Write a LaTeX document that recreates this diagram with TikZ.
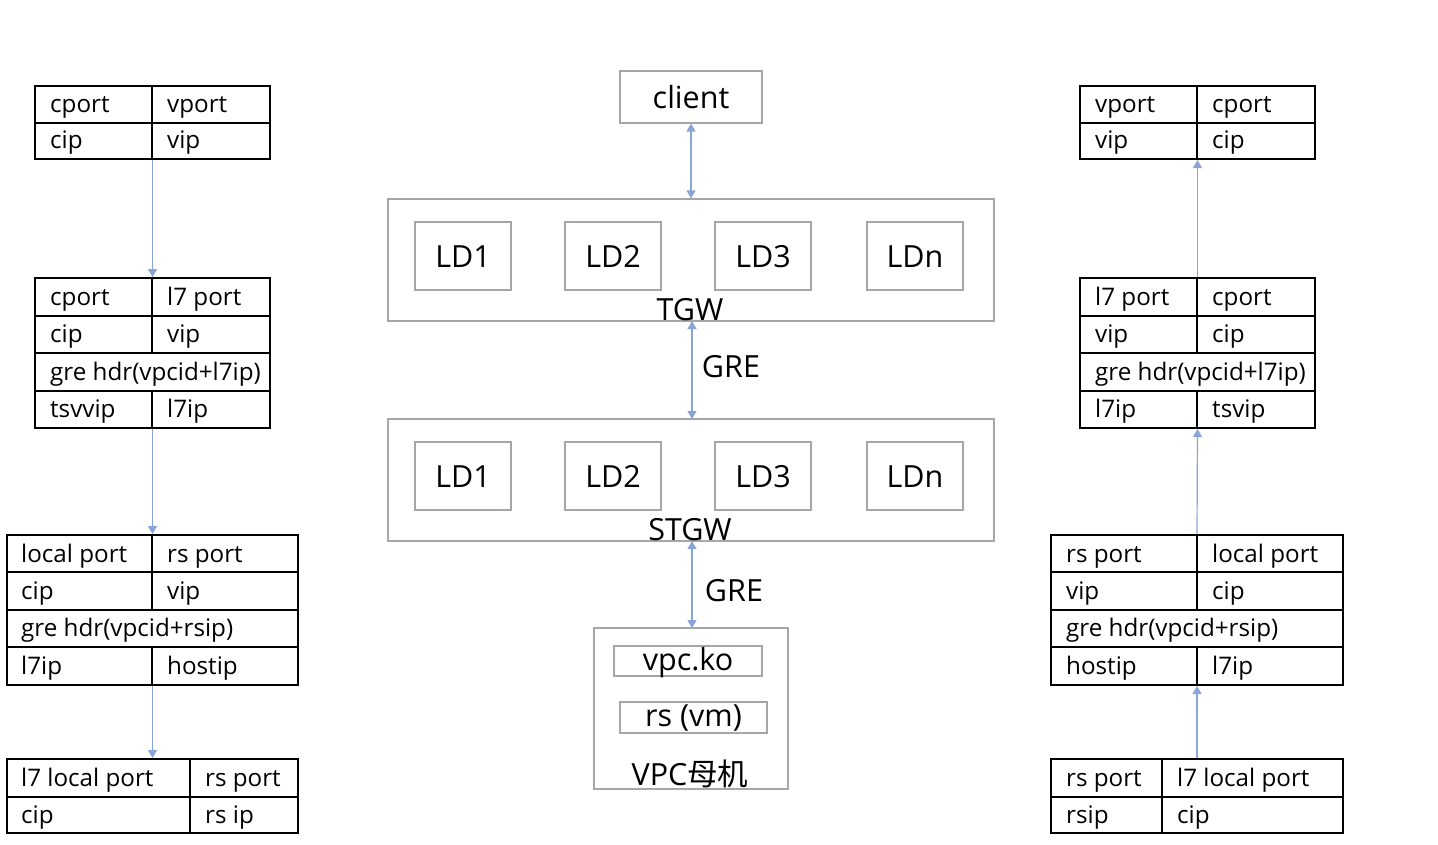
\documentclass[tikz,border=0pt]{standalone}
\usepackage{fontspec}
\setmainfont{Open Sans}
\newfontfamily\cjk{Noto Sans CJK SC}
\usetikzlibrary{arrows.meta}
\definecolor{flowblue}{RGB}{138,164,216}
\definecolor{boxgray}{RGB}{165,165,170}
\newcommand{\tabf}{\fontsize{24.2}{27}\selectfont}
\newcommand{\bigf}{\fontsize{30.5}{33}\selectfont}
\tikzset{
 tbl/.style={draw=black,line width=2pt,inner sep=0pt},
 tline/.style={draw=black,line width=2pt},
 cell/.style={anchor=base west,inner sep=0pt,font=\tabf},
 gbox/.style={draw=boxgray,line width=1.3pt,inner sep=0pt},
 ldbox/.style={gbox,minimum width=96pt,minimum height=68pt,font=\bigf,text height=22pt,text depth=0pt},
 slot/.style={gbox,font=\bigf,text height=24pt,text depth=6pt},
 lbl/.style={inner sep=0pt,font=\bigf},
 flow/.style={draw=flowblue,line width=1.2pt,-{Triangle[width=9pt,length=8pt]}},
 flowboth/.style={draw=flowblue,line width=1.2pt,{Triangle[width=9pt,length=8pt]}-{Triangle[width=9pt,length=8pt]}}
}
\begin{document}
\begin{tikzpicture}[x=1pt,y=-1pt]
 \useasboundingbox[fill=white](0,0) rectangle (1438,844);
 % left column
 \node[tbl,minimum width=235pt,minimum height=73pt](lt1) at (152.5,122.5){};
 \draw[tline](35,123)--(270,123) (152,86)--(152,159);
 \node[cell](lt1a) at (50,112){cport};
 \node[cell](lt1b) at (167,112){vport};
 \node[cell](lt1c) at (50,148){cip};
 \node[cell](lt1d) at (167,148){vip};
 \node[tbl,minimum width=235pt,minimum height=150pt](lt2) at (152.5,353){};
 \draw[tline](35,316)--(270,316) (35,353)--(270,353) (35,391)--(270,391);
 \draw[tline](152,278)--(152,353) (152,391)--(152,428);
 \node[cell](lt2a) at (50,305){cport};
 \node[cell](lt2b) at (167,305){l7 port};
 \node[cell](lt2c) at (50,342){cip};
 \node[cell](lt2d) at (167,342){vip};
 \node[cell](lt2e) at (50,380){gre hdr(vpcid+l7ip)};
 \node[cell](lt2f) at (50,417){tsvvip};
 \node[cell](lt2g) at (167,417){l7ip};
 \node[tbl,minimum width=291pt,minimum height=150pt](lt3) at (152.5,610){};
 \draw[tline](7,572)--(298,572) (7,610)--(298,610) (7,647)--(298,647);
 \draw[tline](152,535)--(152,610) (152,647)--(152,685);
 \node[cell](lt3a) at (21,562){local port};
 \node[cell](lt3b) at (167,562){rs port};
 \node[cell](lt3c) at (21,599){cip};
 \node[cell](lt3d) at (167,599){vip};
 \node[cell](lt3e) at (21,636){gre hdr(vpcid+rsip)};
 \node[cell](lt3f) at (21,674){l7ip};
 \node[cell](lt3g) at (167,674){hostip};
 \node[tbl,minimum width=291pt,minimum height=74pt](lt4) at (152.5,796){};
 \draw[tline](7,797)--(298,797) (190,759)--(190,833);
 \node[cell](lt4a) at (21,786){l7 local port};
 \node[cell](lt4b) at (205,786){rs port};
 \node[cell](lt4c) at (21,823){cip};
 \node[cell](lt4d) at (205,823){rs ip};
 \draw[flow](lt1.south)--(lt2.north);
 \draw[flow](lt2.south)--(lt3.north);
 \draw[flow](lt3.south)--(lt3.south|-lt4.north);
 % middle
 \node[gbox,minimum width=142pt,minimum height=52pt,font=\bigf](client) at (691,97){client};
 \node[gbox,minimum width=606pt,minimum height=122pt](tgw) at (691,260){};
 \node[ldbox](tld1) at (463,256){LD1};
 \node[ldbox](tld2) at (613,256){LD2};
 \node[ldbox](tld3) at (763,256){LD3};
 \node[ldbox](tldn) at (915,256){LDn};
 \node[lbl](tgwl) at (690,310){TGW};
 \node[gbox,minimum width=606pt,minimum height=122pt](stgw) at (691,480){};
 \node[ldbox](sld1) at (463,476){LD1};
 \node[ldbox](sld2) at (613,476){LD2};
 \node[ldbox](sld3) at (763,476){LD3};
 \node[ldbox](sldn) at (915,476){LDn};
 \node[lbl](stgwl) at (690,530){STGW};
 \node[gbox,minimum width=194pt,minimum height=161pt](vpc) at (691,708.5){};
 \node[slot,minimum width=148pt,minimum height=30pt](vpcko) at (688,661){vpc.ko};
 \node[slot,minimum width=147pt,minimum height=31pt](rsvm) at (693.5,717.5){rs (vm)};
 \node[lbl](vpcl) at (690,774){VPC{\cjk 母机}};
 \draw[flowboth](client.south)--(client.south|-tgw.north);
 \draw[flowboth](692,321)--(692,419);
 \node[lbl](gre1) at (731,367){GRE};
 \draw[flowboth](692,541)--(692,628);
 \node[lbl](gre2) at (734,591){GRE};
 % right column
 \node[tbl,minimum width=235pt,minimum height=73pt](rt1) at (1197.5,122.5){};
 \draw[tline](1080,123)--(1315,123) (1197,86)--(1197,159);
 \node[cell](rt1a) at (1095,112){vport};
 \node[cell](rt1b) at (1212,112){cport};
 \node[cell](rt1c) at (1095,148){vip};
 \node[cell](rt1d) at (1212,148){cip};
 \node[tbl,minimum width=235pt,minimum height=150pt](rt2) at (1197.5,353){};
 \draw[tline](1080,316)--(1315,316) (1080,353)--(1315,353) (1080,391)--(1315,391);
 \draw[tline](1197,278)--(1197,353) (1197,391)--(1197,428);
 \node[cell](rt2a) at (1095,305){l7 port};
 \node[cell](rt2b) at (1212,305){cport};
 \node[cell](rt2c) at (1095,342){vip};
 \node[cell](rt2d) at (1212,342){cip};
 \node[cell](rt2e) at (1095,380){gre hdr(vpcid+l7ip)};
 \node[cell](rt2f) at (1095,417){l7ip};
 \node[cell](rt2g) at (1212,417){tsvip};
 \node[tbl,minimum width=292pt,minimum height=150pt](rt3) at (1197,610){};
 \draw[tline](1051,572)--(1343,572) (1051,610)--(1343,610) (1051,647)--(1343,647);
 \draw[tline](1197,535)--(1197,610) (1197,647)--(1197,685);
 \node[cell](rt3a) at (1066,562){rs port};
 \node[cell](rt3b) at (1212,562){local port};
 \node[cell](rt3c) at (1066,599){vip};
 \node[cell](rt3d) at (1212,599){cip};
 \node[cell](rt3e) at (1066,636){gre hdr(vpcid+rsip)};
 \node[cell](rt3f) at (1066,674){hostip};
 \node[cell](rt3g) at (1212,674){l7ip};
 \node[tbl,minimum width=292pt,minimum height=74pt](rt4) at (1197,796){};
 \draw[tline](1051,797)--(1343,797) (1162,759)--(1162,833);
 \node[cell](rt4a) at (1066,786){rs port};
 \node[cell](rt4b) at (1177,786){l7 local port};
 \node[cell](rt4c) at (1066,823){rsip};
 \node[cell](rt4d) at (1177,823){cip};
 \draw[flow](rt4.north)--(rt3.south);
 \draw[flow](rt3.north)--(rt2.south);
 \draw[flow](rt2.north)--(rt1.south);
\end{tikzpicture}
\end{document}
